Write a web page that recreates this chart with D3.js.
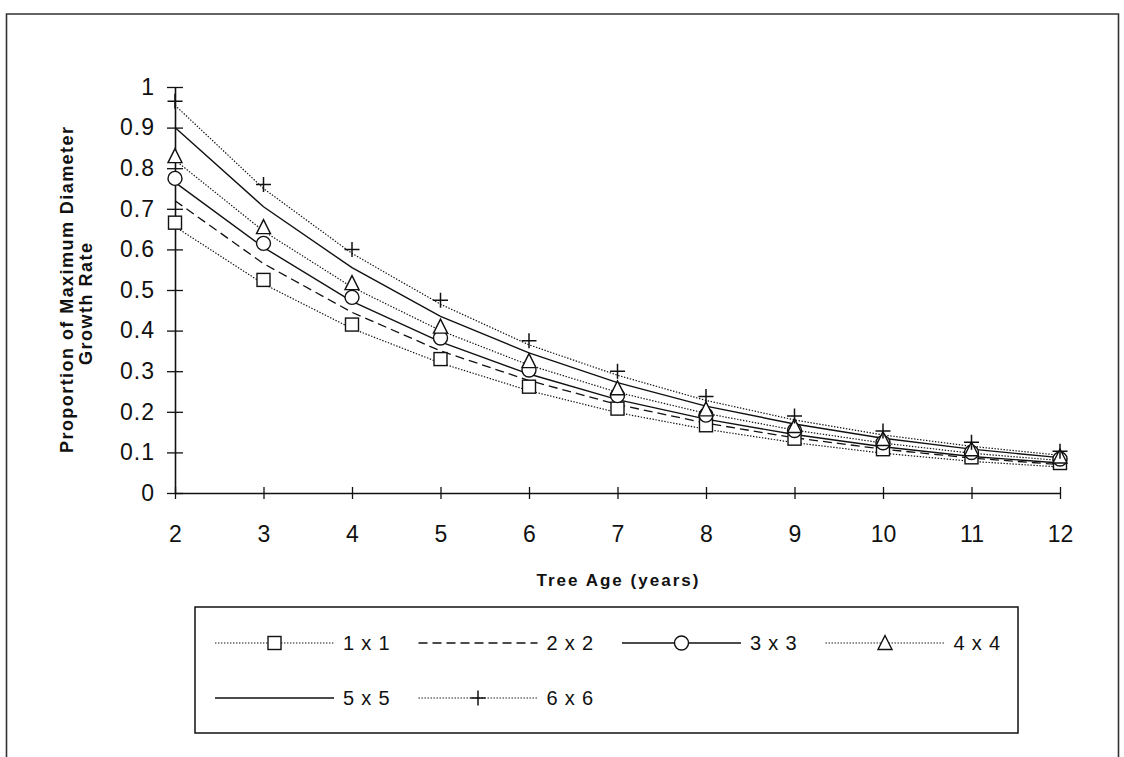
<!DOCTYPE html>
<html>
<head>
<meta charset="utf-8">
<script src="https://cdn.jsdelivr.net/npm/d3@7"></script>
<style>
  html, body { margin: 0; padding: 0; background: #fff; }
  svg { display: block; font-family: "Liberation Sans", Arial, Helvetica, sans-serif; }
</style>
</head>
<body>
<svg id="chart" width="1124" height="757"></svg>
<script>
// Tree age (years) on the x axis
const ages = [2, 3, 4, 5, 6, 7, 8, 9, 10, 11, 12];

// Proportion of maximum diameter growth rate, one array per spacing
const spacing1x1 = [0.656, 0.515, 0.405, 0.320, 0.252, 0.198, 0.157, 0.124, 0.098, 0.078, 0.064];
const spacing2x2 = [0.720, 0.565, 0.445, 0.350, 0.277, 0.218, 0.172, 0.136, 0.108, 0.086, 0.070];
const spacing3x3 = [0.765, 0.605, 0.472, 0.372, 0.293, 0.230, 0.182, 0.144, 0.114, 0.090, 0.074];
const spacing4x4 = [0.820, 0.645, 0.507, 0.400, 0.315, 0.248, 0.196, 0.155, 0.123, 0.098, 0.080];
const spacing5x5 = [0.900, 0.705, 0.555, 0.435, 0.345, 0.272, 0.214, 0.170, 0.135, 0.108, 0.087];
const spacing6x6 = [0.955, 0.750, 0.590, 0.465, 0.365, 0.290, 0.228, 0.180, 0.143, 0.115, 0.093];

const seriesNames = ["1 x 1", "2 x 2", "3 x 3", "4 x 4", "5 x 5", "6 x 6"];
const yTickValues = [0, 0.1, 0.2, 0.3, 0.4, 0.5, 0.6, 0.7, 0.8, 0.9, 1];
const xTickValues = ages;

// Drawing style per series: line pattern and marker symbol
const styles = [
  { dash: "1.4,1.6", width: 1.2, marker: "square" },
  { dash: "9,5",     width: 1.3, marker: null },
  { dash: null,      width: 1.4, marker: "circle" },
  { dash: "1.4,1.6", width: 1.2, marker: "triangle" },
  { dash: null,      width: 1.4, marker: null },
  { dash: "1.4,1.6", width: 1.2, marker: "plus" }
];

const seriesValues = [spacing1x1, spacing2x2, spacing3x3, spacing4x4, spacing5x5, spacing6x6];
const series = seriesNames.map((name, i) => ({
  name,
  style: styles[i],
  points: ages.map((a, j) => ({ age: a, value: seriesValues[i][j] }))
}));

const svg = d3.select("#chart");
const ink = "#111";

// Outer frame (its bottom edge runs past the page)
svg.append("path")
  .attr("d", "M6.5,760 V14 H1118.5 V760")
  .attr("fill", "none").attr("stroke", "#333").attr("stroke-width", 1.6);

const plot = { left: 175, right: 1060, top: 87, bottom: 493 };

const x = d3.scaleLinear().domain([2, 12]).range([plot.left, plot.right]);
const y = d3.scaleLinear().domain([0, 1]).range([plot.bottom, plot.top]);

// Y axis with ticks crossing the axis line
const yAxis = d3.axisLeft(y)
  .tickValues(yTickValues)
  .tickFormat(d => d3.format("~g")(d))
  .tickSizeInner(8).tickSizeOuter(0).tickPadding(12);
const gy = svg.append("g").attr("transform", `translate(${plot.left},0)`).call(yAxis);
gy.select(".domain").attr("stroke", ink).attr("stroke-width", 1.6);
gy.selectAll(".tick line").attr("stroke", ink).attr("stroke-width", 1.3).attr("x2", 8).attr("x1", -8);
gy.selectAll(".tick text").attr("font-size", 23).attr("fill", ink)
  .attr("font-family", "'Liberation Sans', Arial, sans-serif")
  .attr("letter-spacing", 1);

// X axis
const xAxis = d3.axisBottom(x)
  .tickValues(xTickValues)
  .tickFormat(d3.format("d"))
  .tickSizeInner(6).tickSizeOuter(0).tickPadding(27);
const gx = svg.append("g").attr("transform", `translate(0,${plot.bottom})`).call(xAxis);
gx.select(".domain").attr("stroke", ink).attr("stroke-width", 1.6);
gx.selectAll(".tick line").attr("stroke", ink).attr("stroke-width", 1.3).attr("y1", -6).attr("y2", 6);
gx.selectAll(".tick text").attr("font-size", 23).attr("fill", ink)
  .attr("font-family", "'Liberation Sans', Arial, sans-serif");

// Axis titles
svg.append("text")
  .attr("x", (plot.left + plot.right) / 2).attr("y", 586)
  .attr("text-anchor", "middle").attr("font-size", 17).attr("font-weight", "bold").attr("fill", ink)
  .attr("textLength", 162).attr("lengthAdjust", "spacing")
  .text("Tree Age (years)");

const yMid = (plot.top + plot.bottom) / 2;
svg.append("text")
  .attr("transform", `translate(73,${yMid}) rotate(-90)`)
  .attr("text-anchor", "middle").attr("font-size", 18).attr("font-weight", "bold").attr("fill", ink)
  .attr("textLength", 326).attr("lengthAdjust", "spacing")
  .text("Proportion of Maximum Diameter");
svg.append("text")
  .attr("transform", `translate(92,${yMid + 14}) rotate(-90)`)
  .attr("text-anchor", "middle").attr("font-size", 18).attr("font-weight", "bold").attr("fill", ink)
  .attr("textLength", 122).attr("lengthAdjust", "spacing")
  .text("Growth Rate");

// Marker drawing helper
function drawMarker(g, type, cx, cy) {
  const s = 6.5;
  if (type === "square") {
    g.append("rect").attr("x", cx - s).attr("y", cy - s).attr("width", 2 * s).attr("height", 2 * s)
      .attr("fill", "#fff").attr("stroke", ink).attr("stroke-width", 1.4);
  } else if (type === "circle") {
    g.append("circle").attr("cx", cx).attr("cy", cy).attr("r", s + 0.5)
      .attr("fill", "#fff").attr("stroke", ink).attr("stroke-width", 1.4);
  } else if (type === "triangle") {
    g.append("path")
      .attr("d", `M${cx},${cy - s - 1} L${cx + s + 0.5},${cy + s} L${cx - s - 0.5},${cy + s} Z`)
      .attr("fill", "#fff").attr("stroke", ink).attr("stroke-width", 1.4);
  } else if (type === "plus") {
    g.append("path")
      .attr("d", `M${cx - s - 1},${cy} H${cx + s + 1} M${cx},${cy - s - 1} V${cy + s + 1}`)
      .attr("fill", "none").attr("stroke", ink).attr("stroke-width", 1.5);
  }
}

// Series lines
const line = d3.line().x(d => x(d.age)).y(d => y(d.value));
const linesG = svg.append("g");
series.forEach(s => {
  linesG.append("path")
    .datum(s.points)
    .attr("d", line)
    .attr("fill", "none")
    .attr("stroke", ink)
    .attr("stroke-width", s.style.width)
    .attr("stroke-dasharray", s.style.dash);
});

// Markers sit just above their line
const markerLift = -4;
const markersG = svg.append("g");
series.forEach(s => {
  if (!s.style.marker) return;
  s.points.forEach(p => drawMarker(markersG, s.style.marker, x(p.age), y(p.value) + markerLift));
});

// Legend
const legend = { left: 195, top: 607, width: 823, height: 126 };
svg.append("rect")
  .attr("x", legend.left).attr("y", legend.top).attr("width", legend.width).attr("height", legend.height)
  .attr("fill", "#fff").attr("stroke", ink).attr("stroke-width", 1.5);

const legendCols = 4, colWidth = 203.5, rowHeight = 55, sampleLen = 119;
series.forEach((s, i) => {
  const col = i % legendCols, row = Math.floor(i / legendCols);
  const x0 = legend.left + 20 + col * colWidth;
  const yy = legend.top + 36 + row * rowHeight;
  const g = svg.append("g");
  g.append("line")
    .attr("x1", x0).attr("x2", x0 + sampleLen).attr("y1", yy).attr("y2", yy)
    .attr("stroke", ink).attr("stroke-width", s.style.width)
    .attr("stroke-dasharray", s.style.dash);
  if (s.style.marker) drawMarker(g, s.style.marker, x0 + sampleLen / 2, yy);
  g.append("text")
    .attr("x", x0 + sampleLen + 9).attr("y", yy + 7)
    .attr("font-size", 20).attr("fill", ink).attr("letter-spacing", 0.8)
    .text(s.name);
});
</script>
</body>
</html>
